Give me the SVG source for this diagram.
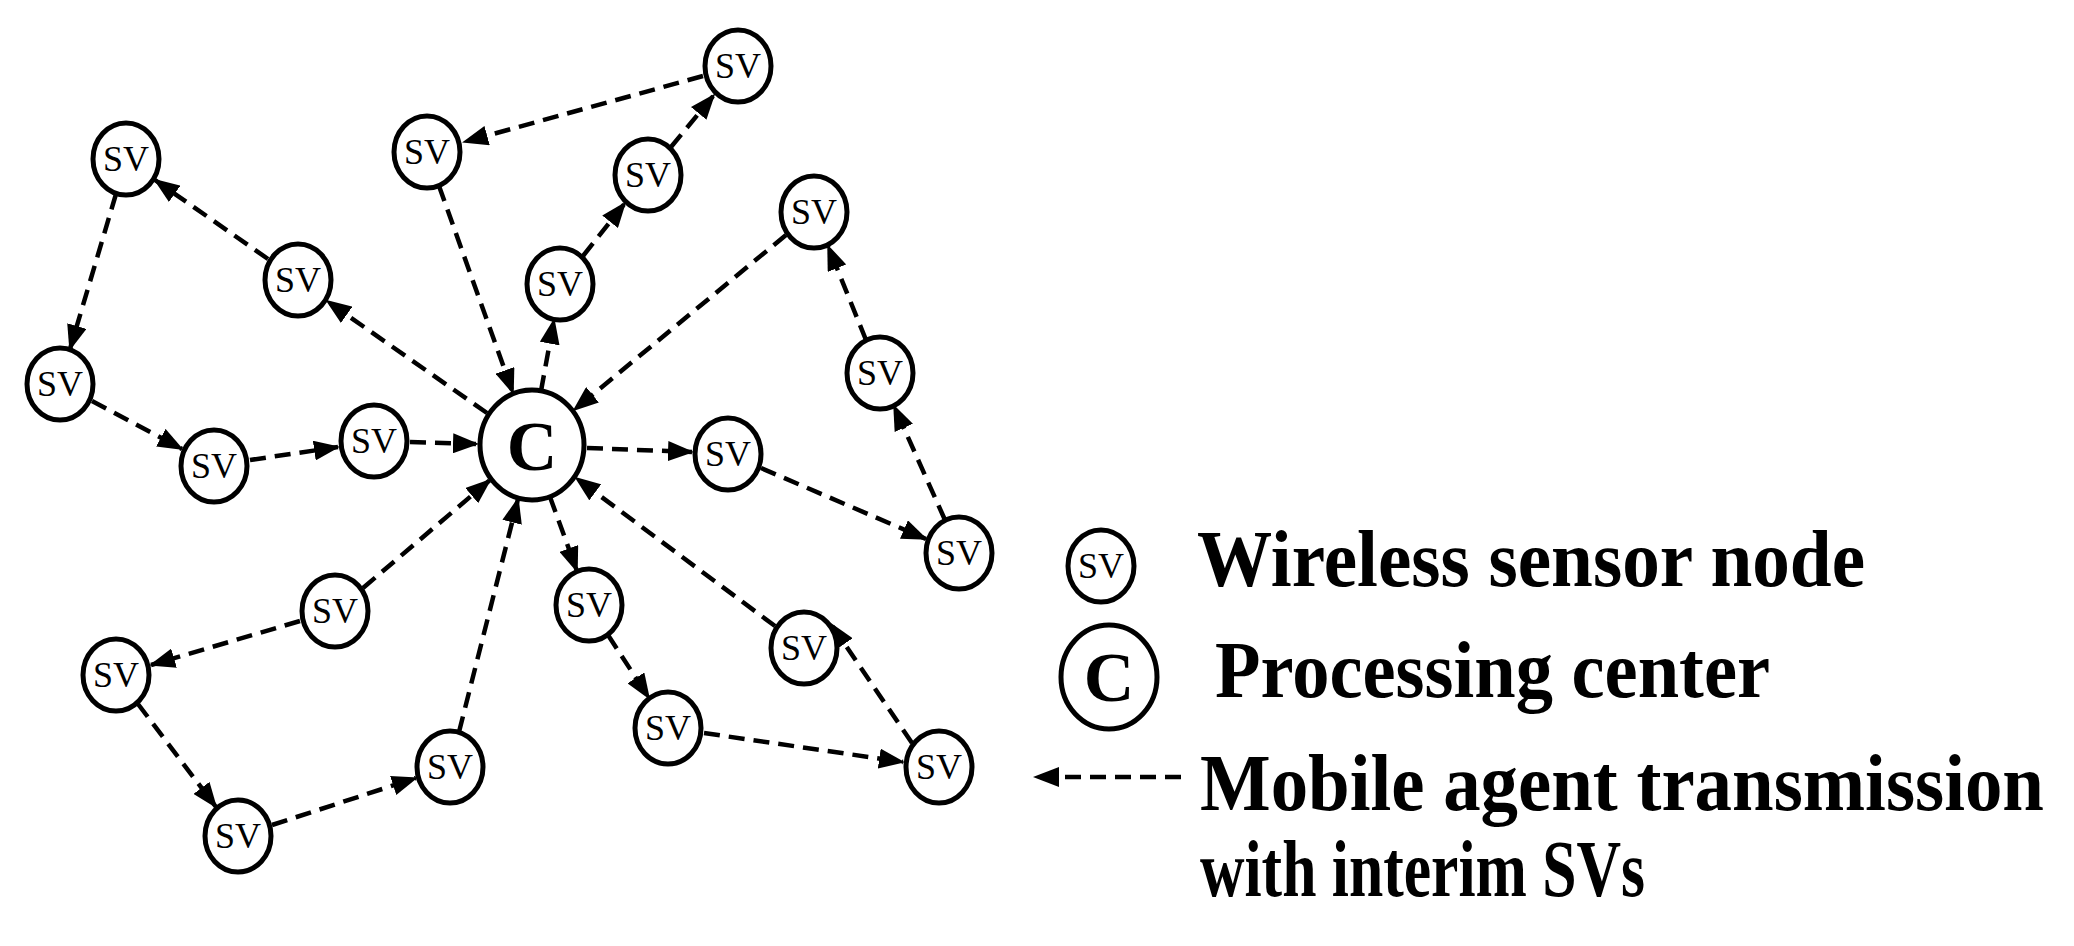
<svg xmlns="http://www.w3.org/2000/svg" width="2074" height="946" viewBox="0 0 2074 946">
<style>
.sv{fill:#fff;stroke:#000;stroke-width:5}
.lb{font-family:"Liberation Serif",serif;font-size:36px;text-anchor:middle}
.cl{font-family:"Liberation Serif",serif;font-size:70px;font-weight:bold;text-anchor:middle}
.e{stroke:#000;stroke-width:4.5;stroke-dasharray:16 9;fill:none;marker-end:url(#a)}
.lg{font-family:"Liberation Serif",serif;font-size:80px;font-weight:bold}
</style>
<defs>
<marker id="a" markerUnits="userSpaceOnUse" markerWidth="26" markerHeight="20" refX="24" refY="10" orient="auto"><path d="M0,0 L26,10 L0,20 Z" fill="#000"/></marker>
<g id="s"><ellipse class="sv" cx="0" cy="0" rx="33" ry="36"/><text class="lb" x="0" y="12" textLength="46" lengthAdjust="spacingAndGlyphs">SV</text></g>
</defs>
<g id="connectors">
<line class="e" x1="703" y1="76" x2="464" y2="142"/>
<line class="e" x1="671" y1="147" x2="714" y2="95"/>
<line class="e" x1="583" y1="256" x2="625" y2="203"/>
<line class="e" x1="541" y1="391" x2="554" y2="320"/>
<line class="e" x1="439" y1="186" x2="513" y2="393"/>
<line class="e" x1="116" y1="194" x2="70" y2="349"/>
<line class="e" x1="268" y1="259" x2="155" y2="180"/>
<line class="e" x1="487" y1="413" x2="327" y2="301"/>
<line class="e" x1="92" y1="401" x2="182" y2="449"/>
<line class="e" x1="250" y1="460" x2="338" y2="447"/>
<line class="e" x1="410" y1="442" x2="477" y2="444"/>
<line class="e" x1="786" y1="235" x2="574" y2="410"/>
<line class="e" x1="587" y1="448" x2="692" y2="452"/>
<line class="e" x1="761" y1="468" x2="926" y2="539"/>
<line class="e" x1="945" y1="520" x2="894" y2="406"/>
<line class="e" x1="866" y1="340" x2="828" y2="246"/>
<line class="e" x1="363" y1="588" x2="490" y2="480"/>
<line class="e" x1="300" y1="621" x2="151" y2="665"/>
<line class="e" x1="138" y1="704" x2="216" y2="807"/>
<line class="e" x1="272" y1="825" x2="416" y2="778"/>
<line class="e" x1="459" y1="732" x2="518" y2="499"/>
<line class="e" x1="550" y1="497" x2="577" y2="571"/>
<line class="e" x1="608" y1="635" x2="649" y2="698"/>
<line class="e" x1="704" y1="733" x2="903" y2="762"/>
<line class="e" x1="912" y1="743" x2="831" y2="624"/>
<line class="e" x1="775" y1="626" x2="576" y2="478"/>
</g>
<g id="n1"><use href="#s" x="738" y="66"/></g>
<g id="n2"><use href="#s" x="427" y="152"/></g>
<g id="n3"><use href="#s" x="126" y="159"/></g>
<g id="n4"><use href="#s" x="648" y="175"/></g>
<g id="n5"><use href="#s" x="814" y="212"/></g>
<g id="n6"><use href="#s" x="298" y="280"/></g>
<g id="n7"><use href="#s" x="560" y="284"/></g>
<g id="n8"><use href="#s" x="60" y="384"/></g>
<g id="n9"><use href="#s" x="880" y="373"/></g>
<g id="center"><ellipse class="sv" cx="532" cy="445" rx="52" ry="55"/><text class="cl" x="532" y="470">C</text></g>
<g id="n11"><use href="#s" x="374" y="441"/></g>
<g id="n12"><use href="#s" x="214" y="466"/></g>
<g id="n13"><use href="#s" x="728" y="454"/></g>
<g id="n14"><use href="#s" x="959" y="553"/></g>
<g id="n15"><use href="#s" x="335" y="611"/></g>
<g id="n16"><use href="#s" x="589" y="605"/></g>
<g id="n17"><use href="#s" x="116" y="675"/></g>
<g id="n18"><use href="#s" x="804" y="648"/></g>
<g id="n19"><use href="#s" x="668" y="728"/></g>
<g id="n20"><use href="#s" x="939" y="767"/></g>
<g id="n21"><use href="#s" x="450" y="767"/></g>
<g id="n22"><use href="#s" x="238" y="836"/></g>
<g id="legend">
<use href="#s" x="1101" y="566"/>
<text class="lg" x="1197" y="586" textLength="668" lengthAdjust="spacingAndGlyphs">Wireless sensor node</text>
<ellipse class="sv" cx="1109" cy="677" rx="48" ry="52"/><text class="cl" x="1109" y="701">C</text>
<text class="lg" x="1215" y="697" textLength="555" lengthAdjust="spacingAndGlyphs">Processing center</text>
<line class="e" x1="1181" y1="777" x2="1035" y2="777"/>
<text class="lg" x="1200" y="810" textLength="844" lengthAdjust="spacingAndGlyphs">Mobile agent transmission</text>
<text class="lg" x="1200" y="896" textLength="445" lengthAdjust="spacingAndGlyphs">with interim SVs</text>
</g>
</svg>
